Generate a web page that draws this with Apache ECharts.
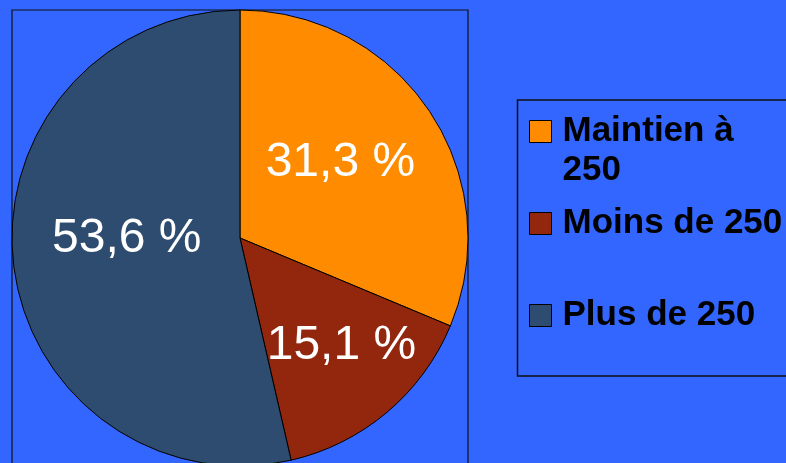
<!DOCTYPE html>
<html>
<head>
<meta charset="utf-8">
<script src="https://cdn.jsdelivr.net/npm/echarts@6/dist/echarts.min.js"></script>
<style>
  html, body { margin: 0; padding: 0; background: #3366ff; }
  #chart { width: 786px; height: 463px; }
</style>
</head>
<body>
<div id="chart"></div>
<script>
// données du camembert
const categories = ['Maintien à 250', 'Moins de 250', 'Plus de 250'];
const shares = [31.3, 15.1, 53.6];
const colors = ['#ff8c00', '#93270d', '#2e4c6f'];

// décalage des étiquettes par rapport à la position "inside"
const labelShift = [[3, -10], [26, 18], [3, -12]];

let chart = echarts.init(document.getElementById('chart'));

let pieData = categories.map((name, i) => ({
  name: name,
  value: shares[i],
  itemStyle: {color: colors[i]},
  label: {offset: labelShift[i]}
}));

let legendText = {
  color: '#000',
  fontFamily: 'Liberation Sans, Arial, sans-serif',
  fontWeight: 'bold',
  fontSize: 35,
  lineHeight: 39,
  padding: [6, 0, 0, 6]
};

function makeLegend(name, top) {
  return {
    data: [name],
    orient: 'vertical',
    left: 529,
    top: top,
    padding: 0,
    icon: 'rect',
    itemWidth: 22,
    itemHeight: 22,
    itemStyle: {borderColor: '#000', borderWidth: 1},
    textStyle: legendText,
    selectedMode: false,
    // ligne vide en tête pour garder le carré aligné sur la première ligne
    formatter: n => n === 'Maintien à 250' ? '\nMaintien à\n250' : n
  };
}

let option = {
  backgroundColor: '#3366ff',
  animation: false,
  graphic: [
    {
      type: 'rect',
      shape: {x: 12, y: 10, width: 456, height: 470},
      style: {fill: 'none', stroke: '#111', lineWidth: 1.2},
      z: 0
    },
    {
      type: 'rect',
      shape: {x: 517.5, y: 100, width: 300, height: 276},
      style: {fill: 'none', stroke: '#111', lineWidth: 1.5},
      z: 0
    }
  ],
  legend: [
    makeLegend(categories[0], 70),
    makeLegend(categories[1], 201),
    makeLegend(categories[2], 293)
  ],
  series: [
    {
      type: 'pie',
      center: [240, 238],
      radius: 228,
      startAngle: 90,
      clockwise: true,
      avoidLabelOverlap: false,
      itemStyle: {borderColor: '#000', borderWidth: 1},
      emphasis: {disabled: true},
      label: {
        show: true,
        position: 'inside',
        color: '#fff',
        fontFamily: 'Liberation Sans, Arial, sans-serif',
        fontSize: 48,
        formatter: p => p.value.toFixed(1).replace('.', ',') + ' %'
      },
      labelLine: {show: false},
      data: pieData
    }
  ]
};

chart.setOption(option);
</script>
</body>
</html>
